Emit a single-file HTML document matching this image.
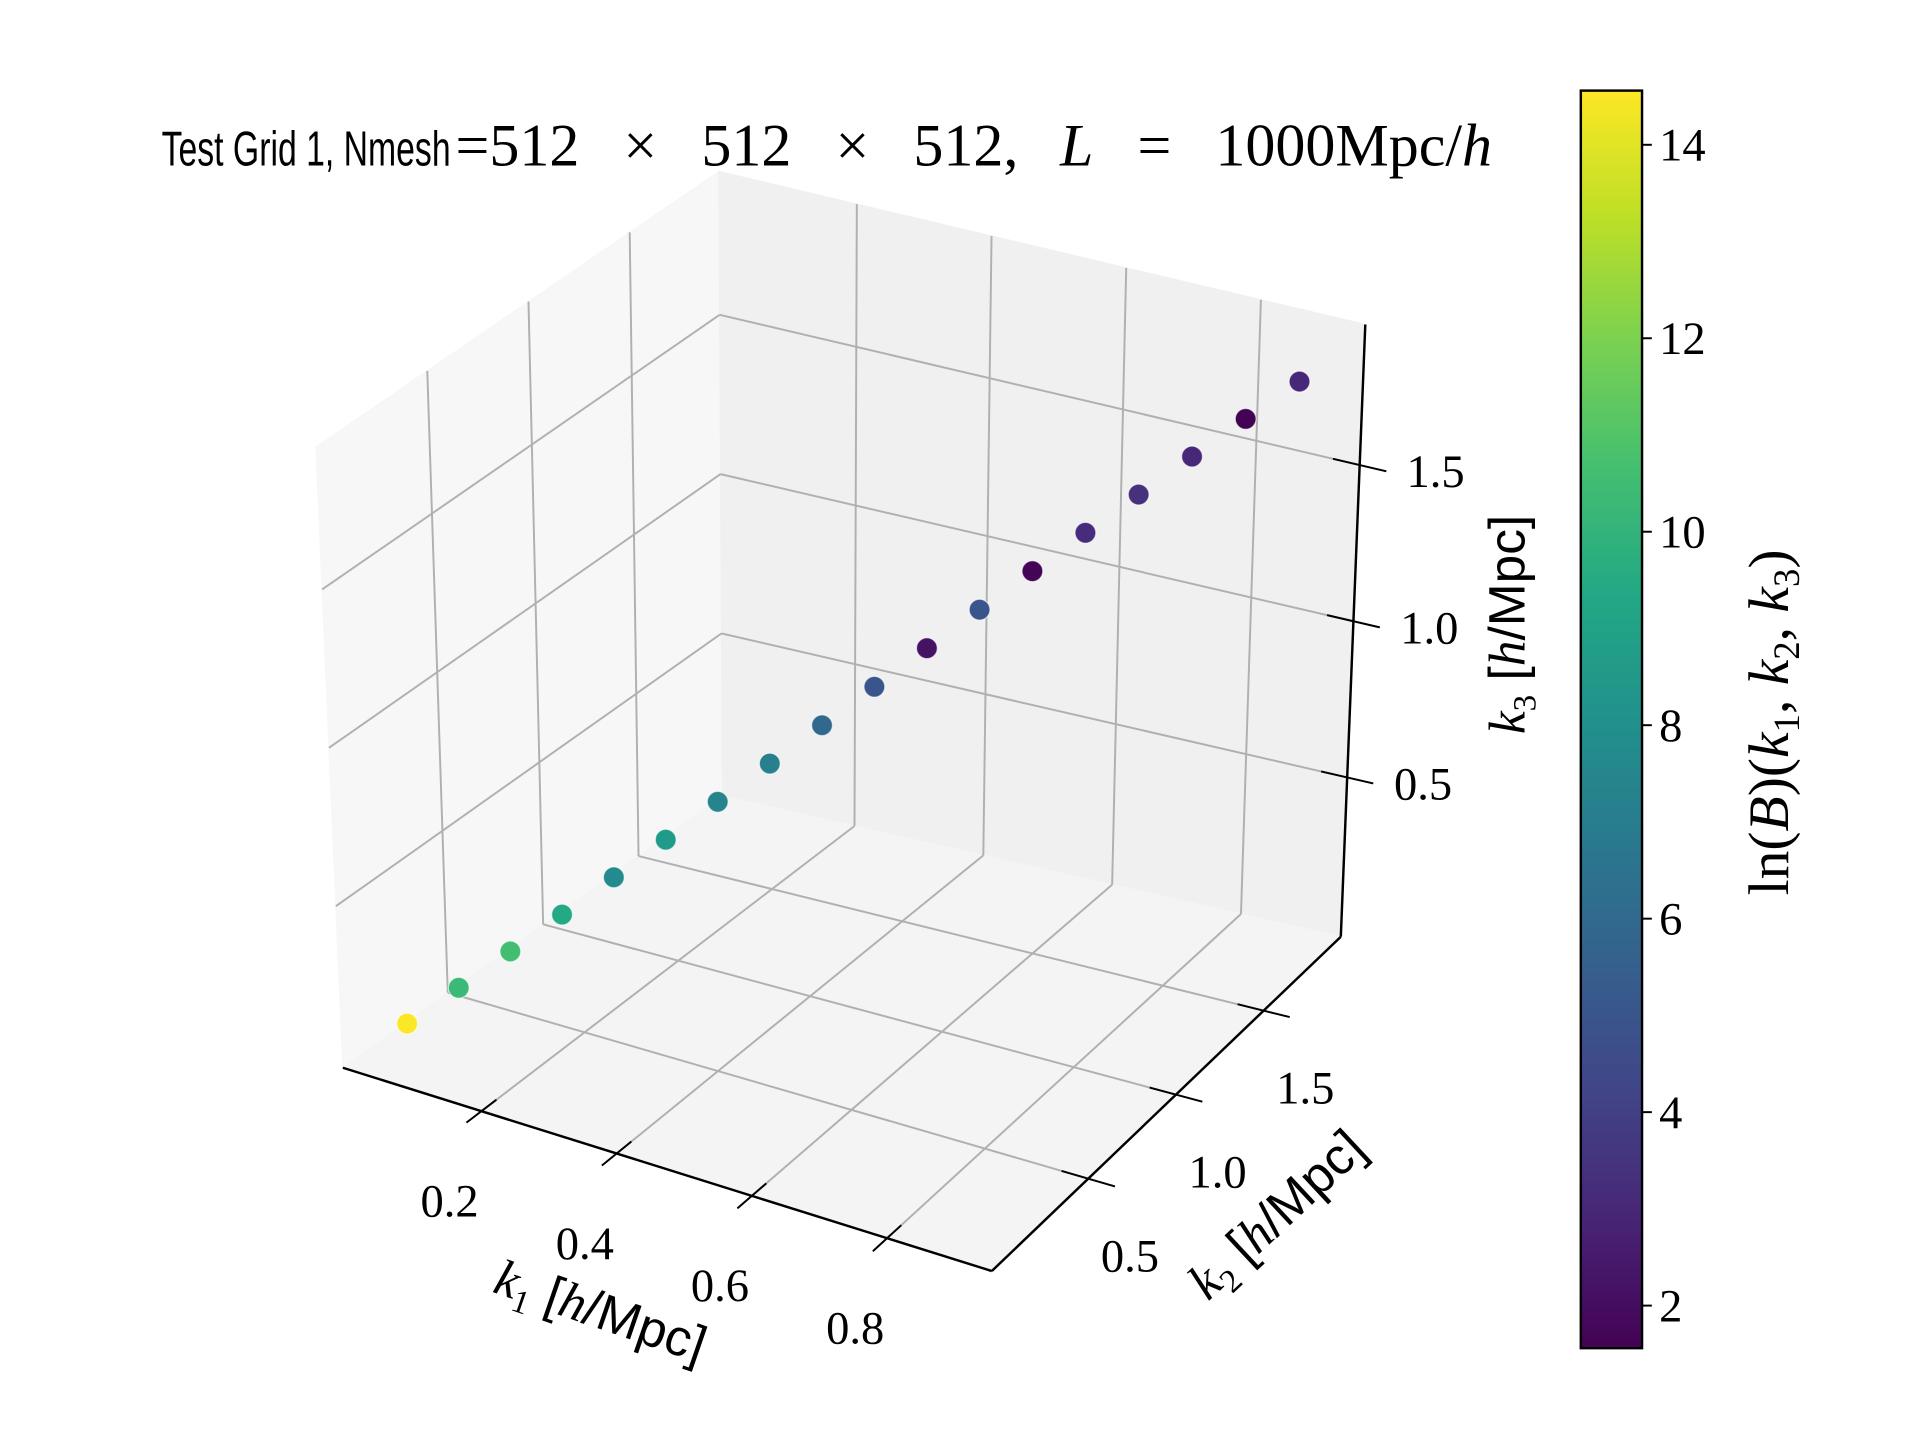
<!DOCTYPE html>
<html><head><meta charset="utf-8"><style>
html,body{margin:0;padding:0;background:#fff;}
svg{display:block;}
.tick{font-family:"Liberation Serif",serif;font-size:38px;fill:#000;}
</style></head><body>
<svg id="chart" width="1920" height="1440" viewBox="0 0 1568 1176" xmlns="http://www.w3.org/2000/svg">
<rect width="1568" height="1176" fill="#fff"/>
<g id="panes"></g>
<g id="grid"></g>
<g id="axes"></g>
<g id="pts"></g>
<g>
<text x="132" y="135" textLength="236" lengthAdjust="spacingAndGlyphs" style="font-family:'Liberation Sans',sans-serif;font-size:40px;fill:#000">Test Grid 1, Nmesh</text>
<text x="372" y="135" style="font-family:'Liberation Serif',serif;font-size:49px;fill:#000">=512<tspan dx="36">×</tspan><tspan dx="36">512</tspan><tspan dx="36">×</tspan><tspan dx="36">512,</tspan><tspan dx="34" font-style="italic">L</tspan><tspan dx="36">=</tspan><tspan dx="36">1000Mpc/</tspan><tspan font-style="italic">h</tspan></text>
</g>
<text transform="translate(486,1084) rotate(19)" text-anchor="middle" style="font-size:42px;fill:#000"><tspan font-family="Liberation Serif,serif" font-style="italic">k</tspan><tspan font-family="Liberation Serif,serif" font-size="27" dy="9">1</tspan><tspan font-family="Liberation Sans,sans-serif" dy="-9"> [</tspan><tspan font-family="Liberation Serif,serif" font-style="italic">h</tspan><tspan font-family="Liberation Sans,sans-serif">/Mpc]</tspan></text>
<text transform="translate(1052,1002) rotate(-43)" text-anchor="middle" style="font-size:42px;fill:#000"><tspan font-family="Liberation Serif,serif" font-style="italic">k</tspan><tspan font-family="Liberation Serif,serif" font-size="27" dy="9">2</tspan><tspan font-family="Liberation Sans,sans-serif" dy="-9"> [</tspan><tspan font-family="Liberation Serif,serif" font-style="italic">h</tspan><tspan font-family="Liberation Sans,sans-serif">/Mpc]</tspan></text>
<text transform="translate(1245,510) rotate(-90)" text-anchor="middle" style="font-size:42px;fill:#000"><tspan font-family="Liberation Serif,serif" font-style="italic">k</tspan><tspan font-family="Liberation Serif,serif" font-size="27" dy="9">3</tspan><tspan font-family="Liberation Sans,sans-serif" dy="-9"> [</tspan><tspan font-family="Liberation Serif,serif" font-style="italic">h</tspan><tspan font-family="Liberation Sans,sans-serif">/Mpc]</tspan></text>
<defs><linearGradient id="vir" x1="0" y1="1" x2="0" y2="0">
<stop offset="0" stop-color="#440154"/><stop offset="0.1" stop-color="#482475"/><stop offset="0.2" stop-color="#414487"/><stop offset="0.3" stop-color="#355f8d"/><stop offset="0.4" stop-color="#2a788e"/><stop offset="0.5" stop-color="#21918c"/><stop offset="0.6" stop-color="#22a884"/><stop offset="0.7" stop-color="#44bf70"/><stop offset="0.8" stop-color="#7ad151"/><stop offset="0.9" stop-color="#bddf26"/><stop offset="1" stop-color="#fde725"/></linearGradient></defs>
<rect x="1291" y="74" width="50" height="1027" fill="url(#vir)" stroke="#000" stroke-width="2"/>
<g id="cbticks"></g>
<text transform="translate(1460,590) rotate(-90)" text-anchor="middle" style="font-family:'Liberation Serif',serif;font-size:47px;fill:#000">ln(<tspan font-style="italic">B</tspan>)(<tspan font-style="italic">k</tspan><tspan font-size="30" dy="9">1</tspan><tspan dy="-9">, </tspan><tspan font-style="italic">k</tspan><tspan font-size="30" dy="9">2</tspan><tspan dy="-9">, </tspan><tspan font-style="italic">k</tspan><tspan font-size="30" dy="9">3</tspan><tspan dy="-9">)</tspan></text>
</svg>
<script>
const k1Values=[0.05,0.10,0.15,0.20,0.25,0.30,0.35,0.40,0.45,0.50,0.55,0.60,0.65,0.70,0.75,0.80,0.85,0.90];
const k2Values=[0.1,0.2,0.3,0.4,0.5,0.6,0.7,0.8,0.9,1.0,1.1,1.2,1.3,1.4,1.5,1.6,1.7,1.8];
const k3Values=[0.1,0.2,0.3,0.4,0.5,0.6,0.7,0.8,0.9,1.0,1.1,1.2,1.3,1.4,1.5,1.6,1.7,1.8];
const lnB=[14.5,10.3,10.6,9.4,7.7,8.6,7.4,7.1,6.0,5.0,2.2,5.0,1.7,3.2,3.4,3.0,1.6,3.0];
const k1Ticks=[0.2,0.4,0.6,0.8];
const k2Ticks=[0.5,1.0,1.5];
const k3Ticks=[0.5,1.0,1.5];
const cbTicks=[2,4,6,8,10,12,14];
const R1=[-0.005,0.955],R2=[-0.05,1.94],R3=[-0.01,1.95];
const C={
 "000":[280,872],"100":[810,1038],"010":[590,650],"110":[1095,765],
 "001":[258,365],"101":[800,480],"011":[587,140],"111":[1115,265]};
function P(a,b,c){
 const u=(a-R1[0])/(R1[1]-R1[0]),v=(b-R2[0])/(R2[1]-R2[0]),w=(c-R3[0])/(R3[1]-R3[0]);
 let x=0,y=0;
 for(const i of [0,1])for(const j of [0,1])for(const k of [0,1]){
  const wt=(i?u:1-u)*(j?v:1-v)*(k?w:1-w);const p=C[""+i+j+k];x+=wt*p[0];y+=wt*p[1];}
 return [x,y];}
const NS="http://www.w3.org/2000/svg";
function mk(tag,parent,attrs){const e=document.createElementNS(NS,tag);for(const k in attrs)e.setAttribute(k,attrs[k]);parent.appendChild(e);return e;}
function poly(parent,pts,fill,name){const e=mk('polygon',parent,{points:pts.map(p=>p.join(',')).join(' '),fill:fill,stroke:fill,'stroke-width':1});

}
function line(parent,a,b,col,w,name){const e=mk('line',parent,{x1:a[0],y1:a[1],x2:b[0],y2:b[1],stroke:col,'stroke-width':w});

}
const panes=document.getElementById('panes'),grid=document.getElementById('grid'),axes=document.getElementById('axes');
poly(panes,[P(R1[0],R2[0],R3[0]),P(R1[0],R2[1],R3[0]),P(R1[0],R2[1],R3[1]),P(R1[0],R2[0],R3[1])],'#f7f7f7','left-pane');
poly(panes,[P(R1[0],R2[1],R3[0]),P(R1[1],R2[1],R3[0]),P(R1[1],R2[1],R3[1]),P(R1[0],R2[1],R3[1])],'#f0f0f0','back-pane');
poly(panes,[P(R1[0],R2[0],R3[0]),P(R1[1],R2[0],R3[0]),P(R1[1],R2[1],R3[0]),P(R1[0],R2[1],R3[0])],'#f4f4f4','floor-pane');
const G='#b0b0b0',GW=1.6;
const svg=document.getElementById('chart');
function label(x,y,txt,name){const t=mk('text',svg,{x:x,y:y,'text-anchor':'middle',class:'tick'});t.textContent=txt;

}
k1Ticks.forEach(t=>{
 line(grid,P(t,R2[0],R3[0]),P(t,R2[1],R3[0]),G,GW,'k1-gridline');
 line(grid,P(t,R2[1],R3[0]),P(t,R2[1],R3[1]),G,GW,'k1-gridline');
 const p=P(t,R2[0],R3[0]),q=P(t,R2[0]-0.08,R3[0]);
 line(axes,[2*p[0]-q[0],2*p[1]-q[1]],q,'#000',1.6,'k1-tick');
 label(p[0]-26,p[1]+86,t.toFixed(1),'k1-tick-label');});
k2Ticks.forEach(t=>{
 line(grid,P(R1[0],t,R3[0]),P(R1[1],t,R3[0]),G,GW,'k2-gridline');
 line(grid,P(R1[0],t,R3[0]),P(R1[0],t,R3[1]),G,GW,'k2-gridline');
 const p=P(R1[1],t,R3[0]),q=P(R1[1]+0.04,t,R3[0]);
 line(axes,[2*p[0]-q[0],2*p[1]-q[1]],q,'#000',1.6,'k2-tick');
 label(p[0]+34,p[1]+76,t.toFixed(1),'k2-tick-label');});
k3Ticks.forEach(t=>{
 line(grid,P(R1[0],R2[0],t),P(R1[0],R2[1],t),G,GW,'k3-gridline');
 line(grid,P(R1[0],R2[1],t),P(R1[1],R2[1],t),G,GW,'k3-gridline');
 const p=P(R1[1],R2[1],t),q=P(R1[1]+0.04,R2[1],t);
 line(axes,[2*p[0]-q[0],2*p[1]-q[1]],q,'#000',1.6,'k3-tick');
 label(p[0]+62,p[1]+18,t.toFixed(1),'k3-tick-label');});
line(axes,P(R1[0],R2[0],R3[0]),P(R1[1],R2[0],R3[0]),'#000',2,'k1-axis-line');
line(axes,P(R1[1],R2[0],R3[0]),P(R1[1],R2[1],R3[0]),'#000',2,'k2-axis-line');
line(axes,P(R1[1],R2[1],R3[0]),P(R1[1],R2[1],R3[1]),'#000',2,'k3-axis-line');
const stops=['#440154','#482475','#414487','#355f8d','#2a788e','#21918c','#22a884','#44bf70','#7ad151','#bddf26','#fde725'];
const VMIN=1.56,VMAX=14.56;
function hex(h){return [1,3,5].map(i=>parseInt(h.substr(i,2),16));}
function vir(v){let f=(v-VMIN)/(VMAX-VMIN);f=Math.max(0,Math.min(1,f))*10;const i=Math.min(9,Math.floor(f)),r=f-i;
 const a=hex(stops[i]),b=hex(stops[i+1]);return 'rgb('+a.map((x,j)=>Math.round(x+(b[j]-x)*r)).join(',')+')';}
const pts=document.getElementById('pts');
k1Values.forEach((a,i)=>{const p=P(a,k2Values[i],k3Values[i]);
 const c=mk('circle',pts,{cx:p[0],cy:p[1],r:8.5,fill:vir(lnB[i]),stroke:'rgba(255,255,255,0.6)','stroke-width':1});
 
 });
const cbt=document.getElementById('cbticks');
function cby(v){return 1101-(v-VMIN)/(VMAX-VMIN)*1027;}
cbTicks.forEach(v=>{const y=cby(v);line(cbt,[1341,y],[1349,y],'#000',1.6,'colorbar-tick');
 const t=mk('text',cbt,{x:1355,y:y+13,class:'tick'});t.textContent=v;
 
 });
</script>
</body></html>
